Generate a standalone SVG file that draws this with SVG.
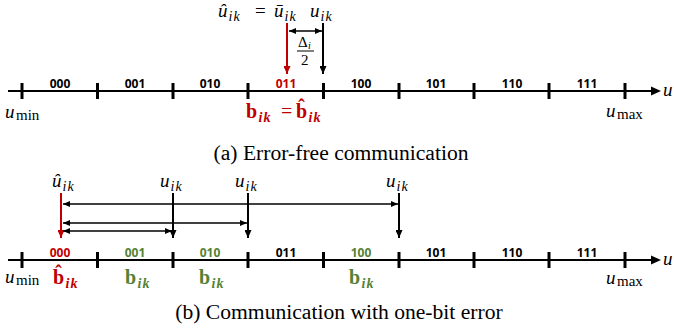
<svg xmlns="http://www.w3.org/2000/svg" width="674" height="330" viewBox="0 0 674 330">
<defs>
<style>
.ax{stroke:#000;stroke-width:2;fill:none}
.tk{stroke:#000;stroke-width:3}
.seg{font-family:"Open Sans","Liberation Sans",sans-serif;font-weight:bold;font-size:12px;text-anchor:middle;fill:#000}
.m{font-family:"Liberation Serif",serif;font-style:italic;font-size:19px;fill:#000}
.s{font-family:"Liberation Serif",serif;font-style:italic;font-size:14px;letter-spacing:1px}
.r{font-family:"Liberation Serif",serif;font-style:normal;font-size:15px}
.bf{font-family:"Liberation Serif",serif;font-weight:bold;font-size:20px}
.cap{font-family:"Liberation Serif",serif;font-size:21.6px;text-anchor:middle;fill:#000}
.red{fill:#c00000}
.grn{fill:#548235}
.va{stroke-width:2;fill:none}
.ha{stroke:#000;stroke-width:1.5;fill:none}
</style>
<marker id="ah" viewBox="0 0 10 10" refX="10" refY="5" markerWidth="8" markerHeight="7" markerUnits="userSpaceOnUse" orient="auto" preserveAspectRatio="none"><path d="M0,0 L10,5 L0,10 Z" fill="#000"/></marker>
<marker id="ahr" viewBox="0 0 10 10" refX="10" refY="5" markerWidth="8" markerHeight="7" markerUnits="userSpaceOnUse" orient="auto" preserveAspectRatio="none"><path d="M0,0 L10,5 L0,10 Z" fill="#c00000"/></marker>
<marker id="hs" viewBox="0 0 10 10" refX="10" refY="5" markerWidth="7" markerHeight="6" markerUnits="userSpaceOnUse" orient="auto-start-reverse" preserveAspectRatio="none"><path d="M0,0 L10,5 L0,10 Z" fill="#000"/></marker>
</defs>

<g id="axis-a">
<line class="ax" x1="8" y1="91" x2="652" y2="91"/>
<path d="M651,86.5 L661,91 L651,95.5 Z" fill="#000"/>
<g class="tk">
<line x1="22" y1="83" x2="22" y2="99"/><line x1="97.5" y1="83" x2="97.5" y2="99"/><line x1="173" y1="83" x2="173" y2="99"/><line x1="248" y1="83" x2="248" y2="99"/><line x1="323.5" y1="83" x2="323.5" y2="99"/><line x1="399" y1="83" x2="399" y2="99"/><line x1="474" y1="83" x2="474" y2="99"/><line x1="549" y1="83" x2="549" y2="99"/><line x1="625" y1="83" x2="625" y2="99"/>
</g>
<text class="seg" x="60" y="88">000</text>
<text class="seg" x="135" y="88">001</text>
<text class="seg" x="210" y="88">010</text>
<text class="seg red" x="286" y="88">011</text>
<text class="seg" x="361" y="88">100</text>
<text class="seg" x="436" y="88">101</text>
<text class="seg" x="512" y="88">110</text>
<text class="seg" x="587" y="88">111</text>
<text class="m" x="663" y="96">u</text>
<text class="m" x="5" y="118">u<tspan class="r" x="16" y="120">min</tspan></text>
<text class="m" x="606" y="117">u<tspan class="r" x="617" y="119">max</tspan></text>
</g>

<g id="labels-a">
<text class="m" x="218" y="17">û<tspan class="s" x="228.5" y="21">ik</tspan><tspan style="font-style:normal" x="255" y="17">=</tspan><tspan x="274" y="17">ū</tspan><tspan class="s" x="284.5" y="21">ik</tspan></text>
<text class="m" x="310" y="17">u<tspan class="s" x="320.5" y="21">ik</tspan></text>
<text class="m" x="298" y="47" style="font-style:normal;font-size:15px">Δ<tspan class="s" style="font-size:10px" x="308" y="49">i</tspan></text>
<line x1="297" y1="51" x2="314" y2="51" stroke="#000" stroke-width="1"/>
<text class="m" x="301" y="65" style="font-style:normal;font-size:15px">2</text>
<text class="bf red" x="246" y="118">b<tspan class="s" x="258.5" y="122">ik</tspan><tspan style="font-weight:normal" x="281" y="118">=</tspan><tspan x="296" y="118">b̂</tspan><tspan class="s" x="308.5" y="122">ik</tspan></text>
</g>

<g id="connectors-a">
<line x1="287" y1="23" x2="287" y2="74" stroke="#c00000" class="va" marker-end="url(#ahr)"/>
<line x1="323" y1="23" x2="323" y2="74" stroke="#000" class="va" marker-end="url(#ah)"/>
<line x1="289" y1="31" x2="322" y2="31" class="ha" marker-start="url(#hs)" marker-end="url(#hs)"/>
</g>

<text class="cap" x="341" y="160">(a) Error-free communication</text>

<g id="axis-b">
<line class="ax" x1="8" y1="260" x2="652" y2="260"/>
<path d="M651,255.5 L661,260 L651,264.5 Z" fill="#000"/>
<g class="tk">
<line x1="22" y1="252" x2="22" y2="268"/><line x1="97.5" y1="252" x2="97.5" y2="268"/><line x1="173" y1="252" x2="173" y2="268"/><line x1="248" y1="252" x2="248" y2="268"/><line x1="323.5" y1="252" x2="323.5" y2="268"/><line x1="399" y1="252" x2="399" y2="268"/><line x1="474" y1="252" x2="474" y2="268"/><line x1="549" y1="252" x2="549" y2="268"/><line x1="625" y1="252" x2="625" y2="268"/>
</g>
<text class="seg red" x="60" y="257">000</text>
<text class="seg grn" x="135" y="257">001</text>
<text class="seg grn" x="210" y="257">010</text>
<text class="seg" x="286" y="257">011</text>
<text class="seg grn" x="361" y="257">100</text>
<text class="seg" x="436" y="257">101</text>
<text class="seg" x="512" y="257">110</text>
<text class="seg" x="587" y="257">111</text>
<text class="m" x="663" y="265">u</text>
<text class="m" x="5" y="283">u<tspan class="r" x="16" y="285">min</tspan></text>
<text class="m" x="606" y="284">u<tspan class="r" x="617" y="286">max</tspan></text>
</g>

<g id="labels-b">
<text class="m" x="52" y="187">û<tspan class="s" x="62.5" y="191">ik</tspan></text>
<text class="m" x="160" y="187">u<tspan class="s" x="170.5" y="191">ik</tspan></text>
<text class="m" x="235" y="187">u<tspan class="s" x="245.5" y="191">ik</tspan></text>
<text class="m" x="386" y="187">u<tspan class="s" x="396.5" y="191">ik</tspan></text>
<text class="bf red" x="53" y="284">b̂<tspan class="s" x="65.5" y="288">ik</tspan></text>
<g class="grn">
<text class="bf" x="125" y="284">b<tspan class="s" x="137.5" y="288">ik</tspan></text>
<text class="bf" x="199" y="284">b<tspan class="s" x="211.5" y="288">ik</tspan></text>
<text class="bf" x="349" y="284">b<tspan class="s" x="361.5" y="288">ik</tspan></text>
</g>
</g>

<g id="connectors-b">
<line x1="61" y1="193" x2="61" y2="238" stroke="#c00000" class="va" marker-end="url(#ahr)"/>
<line x1="173" y1="193" x2="173" y2="238" stroke="#000" class="va" marker-end="url(#ah)"/>
<line x1="248" y1="193" x2="248" y2="238" stroke="#000" class="va" marker-end="url(#ah)"/>
<line x1="399" y1="193" x2="399" y2="238" stroke="#000" class="va" marker-end="url(#ah)"/>
<line x1="63" y1="204" x2="398" y2="204" class="ha" marker-start="url(#hs)" marker-end="url(#hs)"/>
<line x1="63" y1="223" x2="247" y2="223" class="ha" marker-start="url(#hs)" marker-end="url(#hs)"/>
<line x1="63" y1="231" x2="172" y2="231" class="ha" marker-start="url(#hs)" marker-end="url(#hs)"/>
</g>

<text class="cap" x="339" y="319">(b) Communication with one-bit error</text>
</svg>
